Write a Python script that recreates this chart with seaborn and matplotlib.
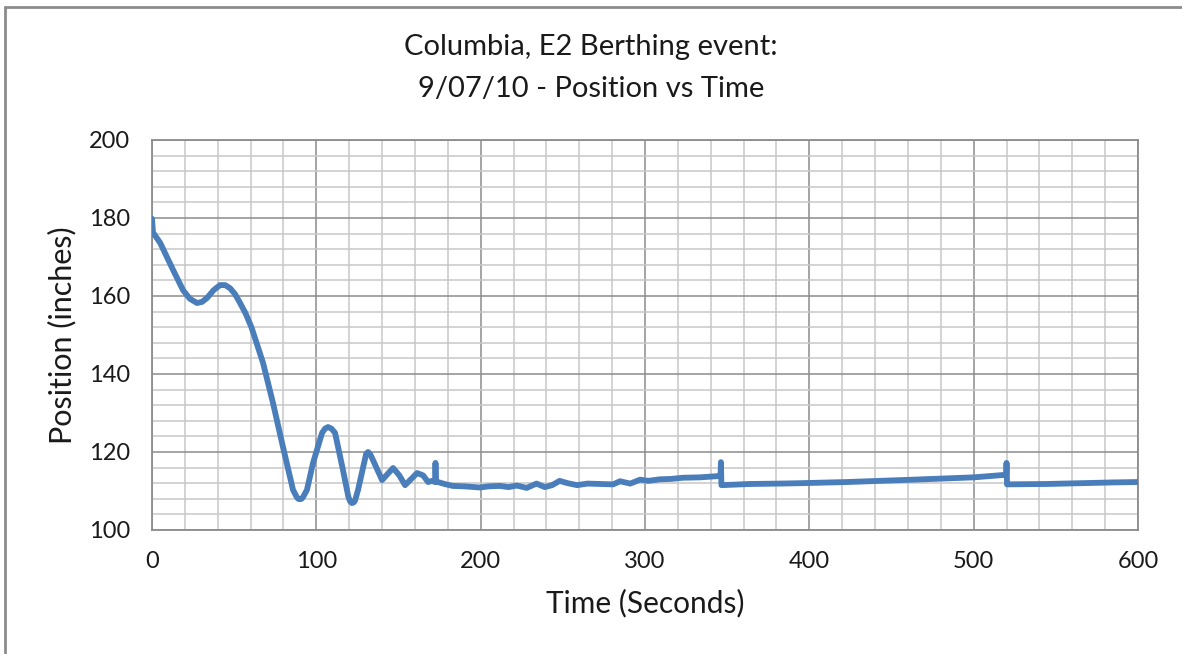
import matplotlib
matplotlib.use("Agg")
import matplotlib.pyplot as plt
from matplotlib.lines import Line2D
from matplotlib.ticker import MultipleLocator
import seaborn as sns
import pandas as pd

# Berthing trace: elapsed time (s) and measured position (in)
time_s = [0, 0.6, 5, 12.8, 18.9, 23, 27.4, 30.5, 33.5, 37.5, 41.4, 44.5, 47.5,
          50.5, 53.6, 57, 60.5, 64, 67.6, 73.6, 79.7, 85.8, 88, 89, 90, 91,
          92, 94.3, 98, 103.5, 105.3, 107.1, 109.2, 111.4, 116.2, 119.5,
          120.6, 121.7, 122.8, 123.5, 125.4, 130.3, 131.5, 132.8, 134.5, 140,
          146.7, 150.5, 154, 161.3, 165, 168, 170.5, 172.3, 172.5, 172.8, 174,
          178, 183, 190, 199.6, 205, 211.8, 217, 222, 228, 234, 239, 243.5,
          248, 253, 258.7, 265, 272.7, 280.6, 284.8, 291, 297, 302, 309, 316,
          323, 333.5, 343.9, 346.0, 346.2, 346.5, 364, 382, 394, 423, 463,
          500, 518, 519.8, 520.0, 520.3, 544.7, 585, 600]
position_in = [179.8, 176.3, 173.6, 166.7, 161.5, 159.3, 158.2, 158.5, 159.5,
               161.5, 162.8, 162.8, 162.0, 160.5, 158.2, 155.5, 152.0, 147.5,
               142.8, 132.6, 121.3, 110.3, 108.5, 108.0, 107.9, 108.0, 108.5,
               110.3, 117.2, 124.9, 126.0, 126.4, 126.0, 124.9, 115.4, 108.5,
               107.3, 106.9, 107.1, 107.5, 110.3, 119.5, 120.0, 119.4, 117.9,
               112.8, 115.9, 114.0, 111.5, 114.6, 114.0, 112.3, 112.6, 112.3,
               117.2, 112.3, 112.3, 111.8, 111.3, 111.2, 110.9, 111.2, 111.3,
               111.0, 111.4, 110.8, 111.9, 111.0, 111.5, 112.6, 112.0, 111.5,
               111.9, 111.8, 111.7, 112.5, 111.9, 112.9, 112.6, 113.0, 113.1,
               113.4, 113.5, 113.8, 113.9, 117.4, 111.5, 111.8, 111.9, 112.0,
               112.3, 112.9, 113.5, 114.1, 114.2, 117.2, 111.7, 111.8, 112.2,
               112.3]

x_ticks = [0, 100, 200, 300, 400, 500, 600]
y_ticks = [100, 120, 140, 160, 180, 200]

df = pd.DataFrame({"Time (Seconds)": time_s, "Position (inches)": position_in})

sns.set_theme(style="white")
plt.rcParams["font.family"] = ["Lato", "DejaVu Sans"]

fig = plt.figure(figsize=(11.82, 6.54), dpi=100)
ax = fig.add_axes([152 / 1182, 1 - 530 / 654, (1138 - 152) / 1182, (530 - 140) / 654])

sns.lineplot(data=df, x="Time (Seconds)", y="Position (inches)", ax=ax,
             sort=False, estimator=None, color="#4A7EBB", linewidth=4.2,
             solid_capstyle="round", solid_joinstyle="round", zorder=5)

ax.set_xlim(x_ticks[0], x_ticks[-1])
ax.set_ylim(y_ticks[0], y_ticks[-1])
ax.set_xticks(x_ticks)
ax.set_yticks(y_ticks)
ax.xaxis.set_minor_locator(MultipleLocator(20))
ax.yaxis.set_minor_locator(MultipleLocator(4))

ax.grid(True, which="major", color="#8C8C8C", linewidth=1.1)
ax.grid(True, which="minor", color="#C8C8C8", linewidth=1.1)
ax.set_axisbelow(True)
for side in ax.spines.values():
    side.set_visible(True)
    side.set_color("#8C8C8C")
    side.set_linewidth(1.3)

ax.tick_params(axis="both", which="both", length=0, labelsize=17,
               labelcolor="#1a1a1a")
ax.tick_params(axis="x", pad=15)
ax.tick_params(axis="y", pad=16)

ax.set_xlabel("Time (Seconds)", fontsize=21.5, color="#1a1a1a", labelpad=12)
ax.set_ylabel("Position (inches)", fontsize=22, color="#1a1a1a", labelpad=9)

fig.text(0.5, 1 - 47 / 654, "Columbia, E2 Berthing event:", ha="center",
         va="center", fontsize=21, color="#1a1a1a")
fig.text(0.5, 1 - 89 / 654, "9/07/10 - Position vs Time", ha="center",
         va="center", fontsize=21, color="#1a1a1a")

# Outer frame of the chart area (top and left edges)
fig.add_artist(Line2D([4.5 / 1182, 4.5 / 1182], [0, 1 - 6.5 / 654],
                      transform=fig.transFigure, color="#8C8C8C", linewidth=2))
fig.add_artist(Line2D([4.5 / 1182, 1], [1 - 6.5 / 654, 1 - 6.5 / 654],
                      transform=fig.transFigure, color="#8C8C8C", linewidth=2))

fig.savefig("out.png", dpi=100, facecolor="white")
